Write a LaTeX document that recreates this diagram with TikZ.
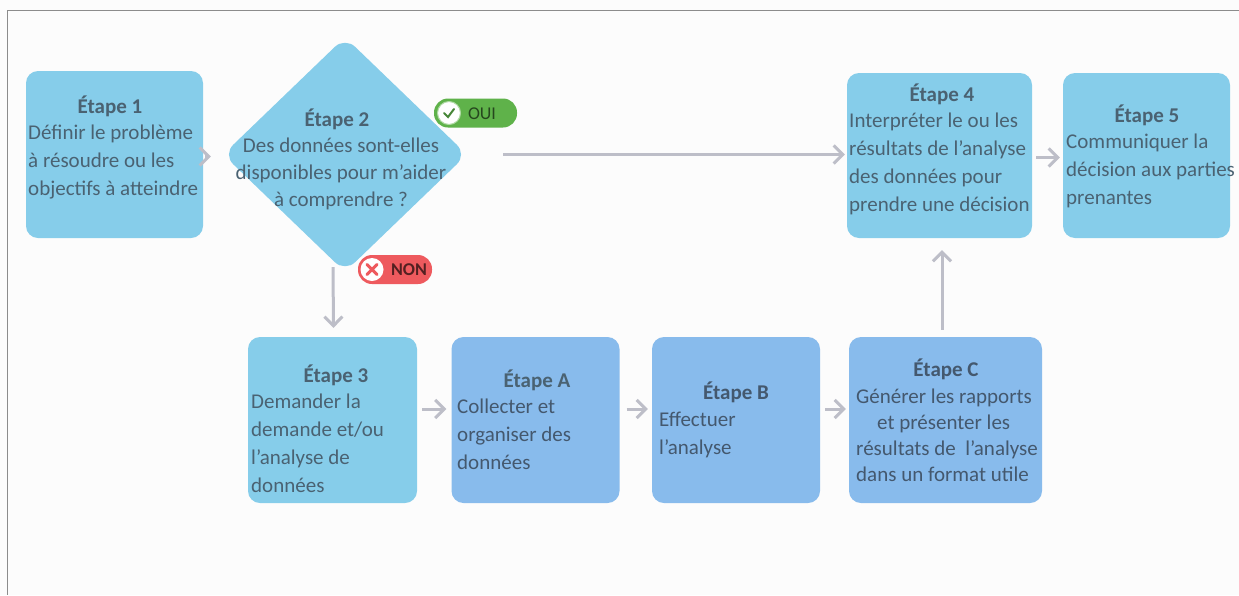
\documentclass[tikz,border=0pt]{standalone}
\usepackage{fontspec}
\setmainfont{Carlito}
\usetikzlibrary{arrows.meta,shapes.geometric,calc}
\definecolor{lightblue}{HTML}{86CDEA}
\definecolor{midblue}{HTML}{88BBEC}
\definecolor{inkA}{HTML}{4A6272}
\definecolor{inkB}{HTML}{44586E}
\definecolor{arrowgray}{HTML}{BDBEC8}
\definecolor{okgreen}{HTML}{5FB24A}
\definecolor{nored}{HTML}{EE5A5E}
\tikzset{
  x=1pt,y=-1pt,
  stepbox/.style={draw=none,rounded corners=12pt,inner sep=0,minimum width=#1},
  lightbox/.style={fill=lightblue},
  midbox/.style={fill=midblue},
  titletext/.style={inner sep=0,font=\fontsize{21}{28}\selectfont\bfseries,text=inkA},
  bodytext/.style={inner sep=0,anchor=north west,align=left,font=\fontsize{21}{28}\selectfont,text=inkA},
  flow/.style={draw=arrowgray,line width=3pt,-{Straight Barb[length=9pt,width=18pt,line width=3pt]}},
  pill/.style={rounded corners=14pt,inner sep=0},
}
\begin{document}
\begin{tikzpicture}
\useasboundingbox (0,0) rectangle (1239,595);
\fill[white!99!black] (0,0) rectangle (1239,595);
\draw[gray!90,line width=1pt] (1239,10) -- (7,10) -- (7,595);
% boxes
\node[stepbox=177,lightbox,minimum height=167] (b1) at (114.5,154.5) {};
\node[diamond,fill=lightblue,rounded corners=14pt,inner sep=0,minimum width=244,minimum height=235,aspect=1.03] (b2) at (345,154.5) {};
\node[stepbox=169,lightbox,minimum height=166] (b3) at (332.5,420) {};
\node[stepbox=168,midbox,minimum height=166] (bA) at (535.5,420) {};
\node[stepbox=168,midbox,minimum height=166] (bB) at (736,420) {};
\node[stepbox=193,midbox,minimum height=166] (bC) at (945.5,420) {};
\node[stepbox=185,lightbox,minimum height=165] (b4) at (939.5,155.5) {};
\node[stepbox=167,lightbox,minimum height=165] (b5) at (1146.5,155.5) {};
% connectors
\draw[flow,shorten >=-1pt,shorten <=2pt] ([yshift=-2pt]b1.east) -- ([yshift=-2pt,xshift=-13pt]b2.west);
\draw[flow,shorten <=36pt,shorten >=2pt] (b2.east) -- (b2.east -| b4.west);
\draw[flow,shorten <=4pt,shorten >=3pt] ([yshift=-2pt]b4.east) -- ([yshift=-2pt]b5.west);
\draw[flow] ([xshift=-12pt,yshift=5pt]b2.south) -- ([xshift=1pt,yshift=9pt]b3.north);
\draw[flow,shorten <=5pt,shorten >=5pt] ([yshift=11pt]b3.east) -- ([yshift=11pt]bA.west);
\draw[flow,shorten <=7pt,shorten >=4pt] ([yshift=11pt]bA.east) -- ([yshift=11pt]bB.west);
\draw[flow,shorten <=5pt,shorten >=3pt] ([yshift=11pt]bB.east) -- ([yshift=11pt]bC.west);
\draw[flow,shorten <=7pt,shorten >=12pt] ([xshift=-3.5pt]bC.north) -- ([xshift=2.5pt]b4.south);
% texts
\node[titletext] (t1) at (110,106) {Étape 1};
\node[bodytext] (d1) at (28,125) {Définir le problème\\à résoudre ou les\\objectifs à atteindre};
\node[titletext] (t2) at (337,119) {Étape 2};
\node[bodytext,anchor=north,align=center,font=\fontsize{21}{27}\selectfont] (d2) at (341,138) {Des données sont-elles\\disponibles pour m'aider\\à comprendre ?};
\node[titletext] (t3) at (336,375) {Étape 3};
\node[bodytext] (d3) at (251,394) {Demander la\\demande et/ou\\l’analyse de\\données};
\node[titletext] (tA) at (537,380) {Étape A};
\node[bodytext,text=inkB] (dA) at (457,399) {Collecter et\\organiser des\\données};
\node[titletext,text=inkB] (tB) at (736,392) {Étape B};
\node[bodytext,text=inkB] (dB) at (659,412) {Effectuer\\l’analyse};
\node[titletext,text=inkB] (tC) at (946,369) {Étape C};
\node[bodytext,text=inkB,font=\fontsize{21}{26}\selectfont] (dC) at (856,389) {Générer les rapports\\\hspace*{21pt}et présenter les\\résultats de\ \ l’analyse\\dans un format utile};
\node[titletext] (t4) at (942,94) {Étape 4};
\node[bodytext] (d4) at (849,113) {Interpréter le ou les\\résultats de l’analyse\\des données pour\\prendre une décision};
\node[titletext] (t5) at (1147,115) {Étape 5};
\node[bodytext] (d5) at (1066,134) {Communiquer la\\décision aux parties\\prenantes};
% badges
\node[pill,fill=okgreen,minimum width=83,minimum height=29] (oui) at (475.5,113) {};
\node[circle,fill=white,draw=okgreen!50!white,line width=1pt,minimum size=23,inner sep=0] (ouic) at (449,113) {};
\draw[okgreen!75!black,line width=2pt,line cap=round] ($(ouic)+(-5,0)$) -- ($(ouic)+(-1,4)$) -- ($(ouic)+(5,-4)$);
\node[inner sep=0,font=\fontsize{18}{20}\selectfont,text=black!60!okgreen] (ouit) at (482,114) {OUI};
\node[pill,fill=nored,minimum width=74,minimum height=29] (non) at (395,269.5) {};
\node[circle,fill=white,minimum size=23,inner sep=0] (nonc) at (372,269.5) {};
\draw[nored,line width=3pt,line cap=round] ($(nonc)+(-5,-5)$) -- ($(nonc)+(5,5)$) ($(nonc)+(5,-5)$) -- ($(nonc)+(-5,5)$);
\node[inner sep=0,font=\fontsize{18}{20}\selectfont\bfseries,text=black!65!nored] (nont) at (409,270) {NON};
\end{tikzpicture}
\end{document}
